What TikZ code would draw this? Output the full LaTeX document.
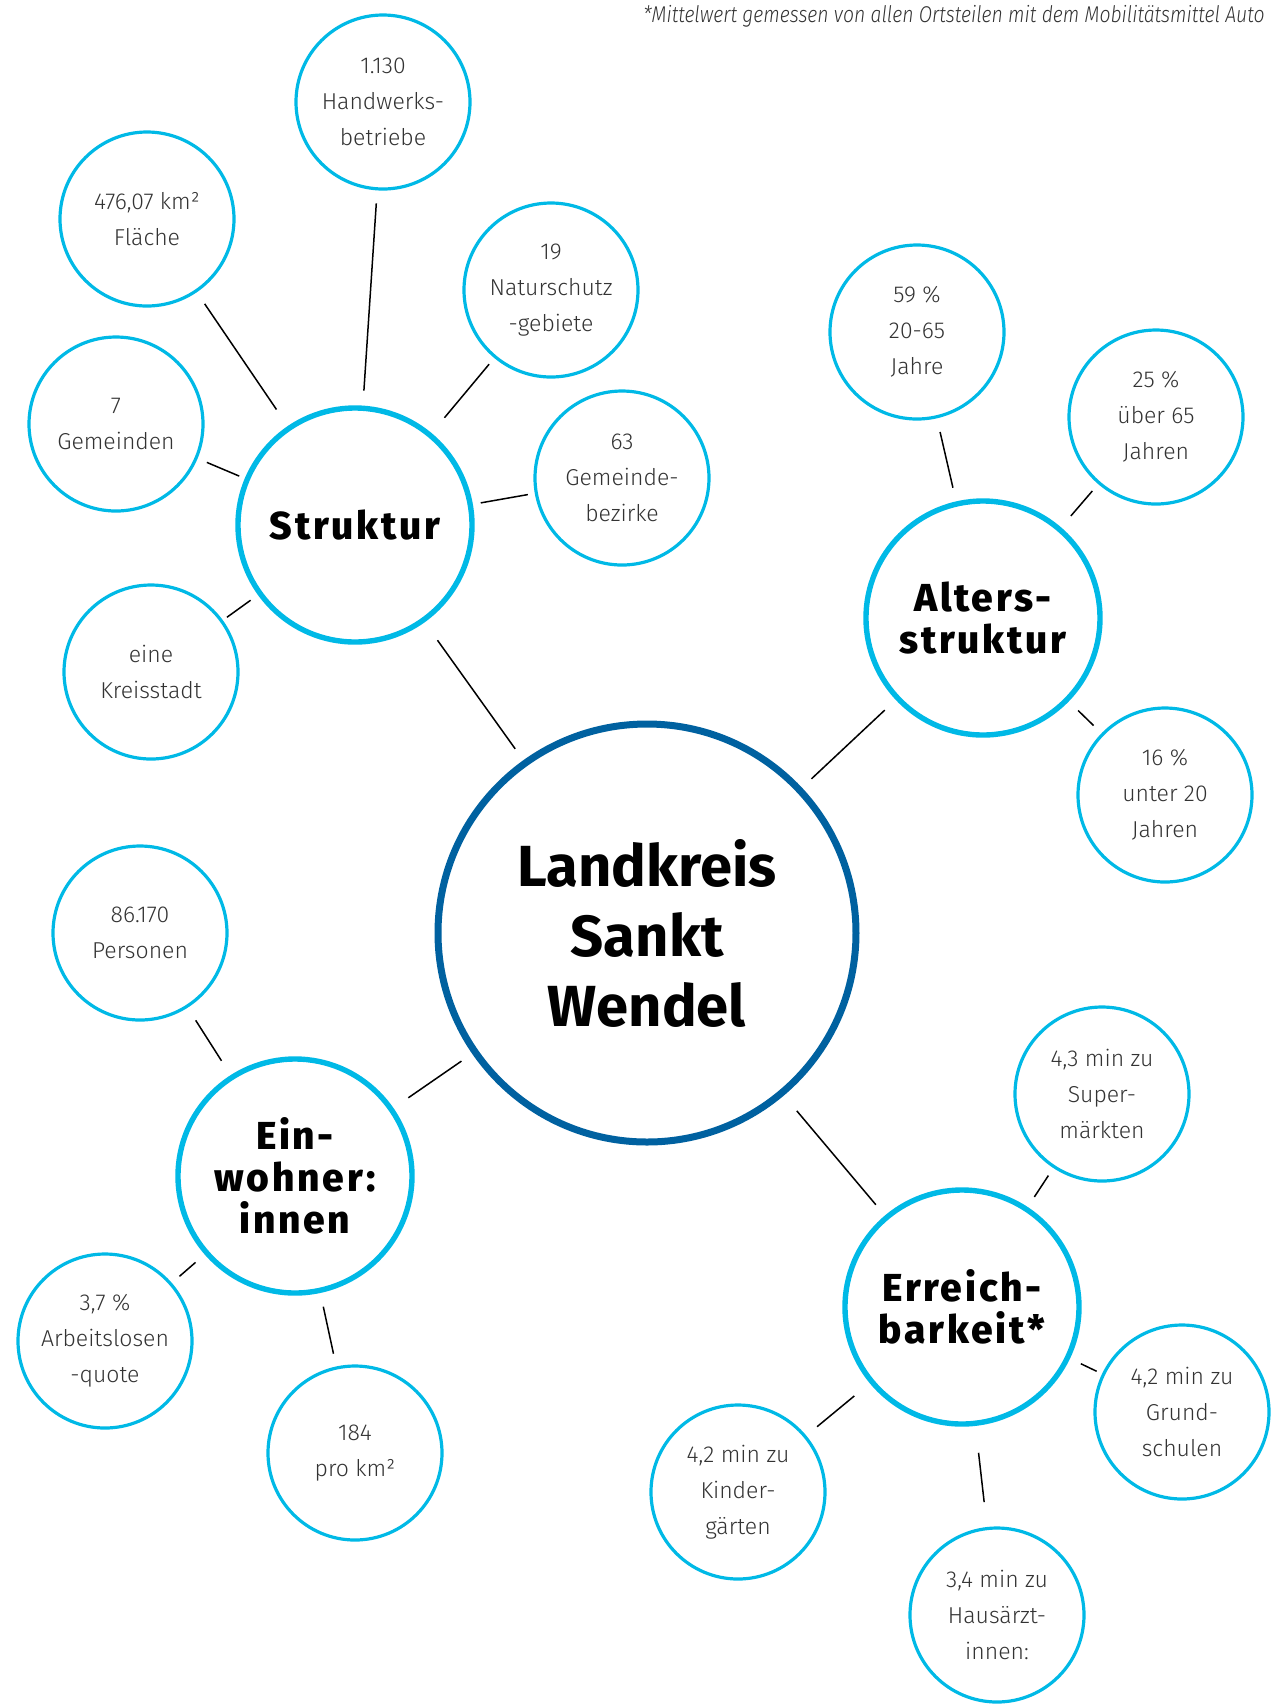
\documentclass[tikz,border=0pt]{standalone}
\usepackage{fontspec}
\setmainfont{Fira Sans}
\newfontfamily\faktfont{Fira Sans Light}
\newfontfamily\themafont[LetterSpace=7]{Fira Sans ExtraBold}
\newfontfamily\notefont[FakeStretch=0.85]{Fira Sans Light}

\definecolor{kreisblau}{HTML}{0061A0}
\definecolor{hellblau}{HTML}{00B9E6}
\definecolor{textgrau}{HTML}{333333}

\begin{document}
\begin{tikzpicture}[x=0.5pt, y=-0.5pt,
    fakt/.style={circle, draw=hellblau, line width=1.6pt, minimum size=87pt, inner sep=0pt,
                 align=center, text=textgrau, font=\faktfont\fontsize{11.5}{18}\selectfont},
    thema/.style={circle, draw=hellblau, line width=2.7pt, minimum size=117pt, inner sep=0pt,
                  align=center, font=\themafont\fontsize{19.5}{21}\selectfont},
    landkreis/.style={circle, draw=kreisblau, line width=3.5pt, minimum size=209pt, inner sep=0pt,
                      align=center, font=\fontsize{29}{35}\selectfont\bfseries},
    link/.style={line width=0.75pt, shorten <=6.5pt, shorten >=6.5pt}]
    \useasboundingbox (0,0) rectangle (1278,1705);

    % footnote
    \node[anchor=east, inner sep=0pt, text=textgrau, font=\notefont\itshape\fontsize{11.4}{13}\selectfont] (note) at (1265,16)
        {*Mittelwert gemessen von allen Ortsteilen mit dem Mobilitätsmittel Auto};

    % centre and topics
    \node[landkreis] (kreis) at (647,933) {Landkreis\\Sankt\\Wendel};
    \node[thema] (struktur) at (355,525) {Struktur};
    \node[thema] (alter) at (983,618) {Alters-\\struktur};
    \node[thema] (einwohner) at (295,1176) {Ein-\\wohner:\\innen};
    \node[thema] (erreich) at (962,1307) {Erreich-\\barkeit*};

    % Struktur
    \node[fakt] (flaeche) at (147,219) {476,07 km²\\Fläche};
    \node[fakt] (handwerk) at (383,102) {1.130\\Handwerks-\\betriebe};
    \node[fakt] (natur) at (551,290) {19\\Naturschutz\\-gebiete};
    \node[fakt] (gemeinden) at (116,424) {7\\Gemeinden};
    \node[fakt] (bezirke) at (622,478) {63\\Gemeinde-\\bezirke};
    \node[fakt] (kreisstadt) at (151,672) {eine\\Kreisstadt};

    % Altersstruktur
    \node[fakt] (mitte) at (917,332) {59 \%\\20-65\\Jahre};
    \node[fakt] (alt) at (1156,417) {25 \%\\über 65\\Jahren};
    \node[fakt] (jung) at (1165,795) {16 \%\\unter 20\\Jahren};

    % Einwohner:innen
    \node[fakt] (personen) at (140,933) {86.170\\Personen};
    \node[fakt] (arbeitslos) at (105,1341) {3,7 \%\\Arbeitslosen\\-quote};
    \node[fakt] (dichte) at (355,1453) {184\\pro km²};

    % Erreichbarkeit
    \node[fakt] (super) at (1102,1094) {4,3 min zu\\Super-\\märkten};
    \node[fakt] (grund) at (1182,1412) {4,2 min zu\\Grund-\\schulen};
    \node[fakt] (kita) at (738,1492) {4,2 min zu\\Kinder-\\gärten};
    \node[fakt] (arzt) at (997,1615) {3,4 min zu\\Hausärzt-\\innen:};

    % connectors
    \draw[link, shorten <=11pt, shorten >=7pt] (struktur) -- (kreis);
    \draw[link, shorten <=7.5pt] (alter) -- (kreis);
    \draw[link, shorten <=9pt] (einwohner) -- (kreis);
    \draw[link, shorten <=7pt, shorten >=10pt] (erreich) -- (kreis);

    \draw[link, shorten <=7pt, shorten >=10pt] (flaeche) -- (struktur);
    \draw[link, shorten >=7.5pt] (handwerk) -- (struktur);
    \draw[link, shorten <=4pt, shorten >=10pt] (natur) -- (struktur);
    \draw[link, shorten <=5pt, shorten >=3pt] (gemeinden) -- (struktur);
    \draw[link, shorten <=3.5pt, shorten >=4pt] (bezirke) -- (struktur);
    \draw[link, shorten <=2.5pt, shorten >=4.5pt] (kreisstadt) -- (struktur);

    \draw[link, shorten <=7pt, shorten >=7pt] (mitte) -- (alter);
    \draw[link, shorten <=4.5pt, shorten >=7.5pt] (alt) -- (alter);
    \draw[link, shorten <=5.5pt] (jung) -- (alter);

    \draw[link, shorten <=7.5pt, shorten >=8.5pt] (personen) -- (einwohner);
    \draw[link, shorten <=5pt, shorten >=6pt] (arbeitslos) -- (einwohner);
    \draw[link, shorten >=7pt] (dichte) -- (einwohner);

    \draw[link, shorten <=4.5pt, shorten >=6pt] (super) -- (erreich);
    \draw[link, shorten <=3pt, shorten >=6pt] (grund) -- (erreich);
    \draw[link, shorten <=7pt, shorten >=10pt] (kita) -- (erreich);
    \draw[link, shorten <=12.5pt, shorten >=13.5pt] (arzt) -- (erreich);
\end{tikzpicture}
\end{document}
